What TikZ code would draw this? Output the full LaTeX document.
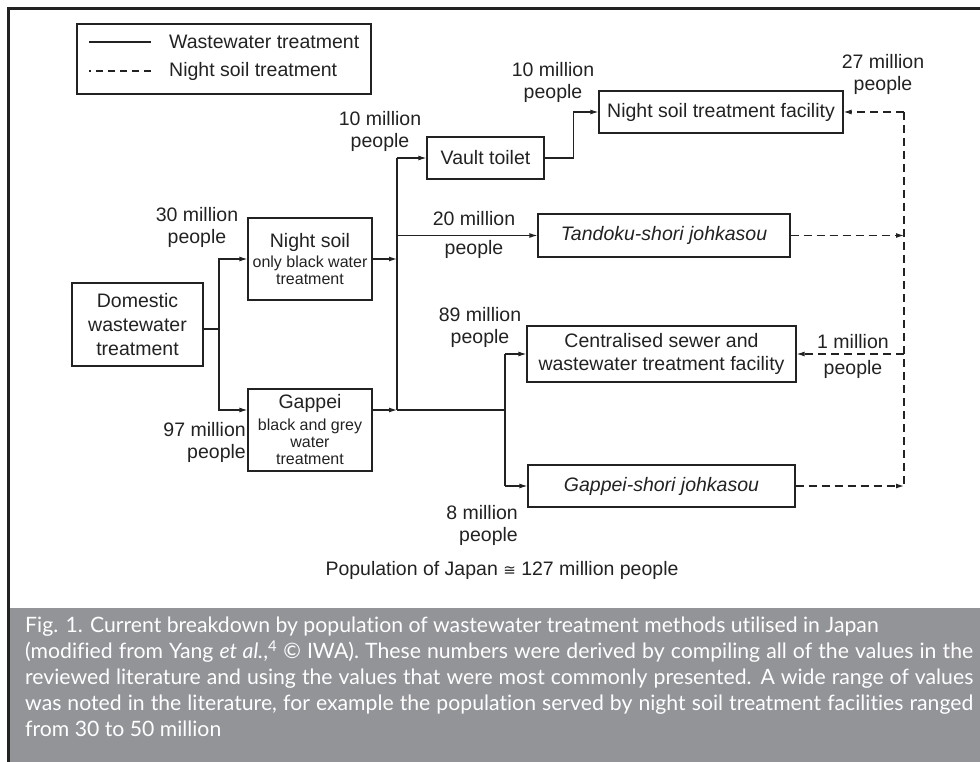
\documentclass[tikz,border=0pt]{standalone}
\usepackage{fontspec}
\setmainfont{Liberation Sans}
\newfontfamily\capfamily[Ligatures=NoCommon]{Lato}
\newfontfamily\symfamily{DejaVu Sans}
\usetikzlibrary{arrows.meta}

\definecolor{ink}{HTML}{222222}
\definecolor{capgray}{HTML}{939498}
\newcommand\bigtxt{\fontsize{19.5}{22}\selectfont}
\newcommand\smalltxt{\fontsize{16}{17}\selectfont}
\newcommand\capfont{\capfamily\fontsize{21.2}{26}\selectfont}

\tikzset{
  box/.style={draw=ink, line width=1.2pt, inner sep=0pt, align=center, font=\bigtxt, text=ink},
  lbl/.style={inner sep=0pt, align=center, font=\bigtxt, text=ink},
  wline/.style={draw=ink, line width=1.2pt},
  nline/.style={wline, dash pattern=on 8pt off 5pt},
}

\begin{document}
\begin{tikzpicture}[x=1pt, y=-1pt, >={Latex[length=8pt,width=5pt]}]
  \useasboundingbox (0,0) rectangle (980,762);
  \fill[capgray] (9.5,608) rectangle (980,762);
  \draw[ink, line width=3pt] (8.5,762) -- (8.5,9) -- (980,9);

  % legend
  \node[draw=ink, line width=1.2pt, minimum width=294pt, minimum height=70pt, inner sep=0pt] (leg) at (224,59) {};
  \node[lbl, anchor=west] (legw) at (169,42) {Wastewater treatment};
  \node[lbl, anchor=west] (legn) at (169,71) {Night soil treatment};
  \draw[wline] ([xshift=-18pt]legw.west) -- ++(-62,0);
  \draw[nline, dash pattern=on 7pt off 5pt] ([xshift=-18pt]legn.west) -- ++(-62,0);

  % boxes
  \node[box, minimum width=131pt, minimum height=83pt] (dom) at (137.5,324.5) {Domestic\\[2pt]wastewater\\[2pt]treatment};
  \node[box, minimum width=124pt, minimum height=82pt] (ns) at (310,259) {Night soil\\[-2pt]{\smalltxt only black water}\\[-5pt]{\smalltxt treatment}};
  \node[box, minimum width=124pt, minimum height=82pt] (gp) at (310,430) {Gappei\\{\smalltxt black and grey}\\[-5pt]{\smalltxt water}\\[-5pt]{\smalltxt treatment}};
  \node[box, minimum width=117pt, minimum height=42pt] (vt) at (485.5,158) {Vault toilet};
  \node[box, minimum width=244pt, minimum height=42pt] (nsf) at (721,112) {Night soil treatment facility};
  \node[box, minimum width=252pt, minimum height=43pt] (td) at (664,235.5) {\itshape Tandoku-shori johkasou};
  \node[box, minimum width=269pt, minimum height=56pt] (cs) at (661.5,354) {Centralised sewer and\\[1pt]wastewater treatment facility};
  \node[box, minimum width=267pt, minimum height=42pt] (gs) at (661.5,486) {\itshape Gappei-shori johkasou};

  % wastewater flows
  \coordinate (j1) at (219,329);
  \coordinate (s1) at (397,410);
  \coordinate (s2) at (505,410);
  \draw[wline] ([yshift=-4.5pt]dom.east) -- (j1);
  \draw[wline,->] (j1) |- (ns.west);
  \draw[wline,->] (j1) |- ([yshift=20pt]gp.west);
  \draw[wline,->] (ns.east) -- (ns.east -| s1);
  \draw[wline,->] ([yshift=20pt]gp.east) -- (s1);
  \draw[wline] (s1) -- (s1 |- vt.west);
  \draw[wline,->] (s1 |- vt.west) -- (vt.west);
  \draw[wline,->] (s1 |- td.west) -- (td.west);
  \draw[wline] (s1) -- (s2);
  \draw[wline] (s2 |- cs.west) -- (s2 |- gs.west);
  \draw[wline,->] (s2 |- cs.west) -- (cs.west);
  \draw[wline,->] (s2 |- gs.west) -- (gs.west);
  \draw[wline,->] (vt.east) -- ++(29,0) |- (nsf.west);

  % night soil flows
  \coordinate (d) at (904,0);
  \draw[nline] (d |- nsf.east) -- (d |- gs.east);
  \draw[nline,->] (d |- nsf.east) -- (nsf.east);
  \draw[nline,->] (td.east) -- (td.east -| d);
  \draw[nline,->] (d |- cs.east) -- (cs.east);
  \draw[nline,->] (gs.east) -- (gs.east -| d);

  % population labels
  \node[lbl] (p30) at (197,227.5) {30 million\\people};
  \node[lbl, align=right, anchor=east] (p97) at (246,442.5) {97 million\\people};
  \node[lbl] (p10v) at (380,131) {10 million\\people};
  \node[lbl] (p10n) at (553,82.5) {10 million\\people};
  \node[lbl] (p27) at (883,74) {27 million\\people};
  \node[lbl] (p20) at (474,234.5) {20 million\\[7pt]people};
  \node[lbl] (p89) at (480,327) {89 million\\people};
  \node[lbl] (p1) at (853,356) {1 million\\[4pt]people};
  \node[lbl, align=right, anchor=east] (p8) at (518,525) {8 million\\people};
  \node[lbl] (pop) at (502,570) {Population of Japan {\symfamily\fontsize{15}{18}\selectfont ≅} 127 million people};

  % caption
  \node[anchor=north west, inner sep=0pt, text width=948pt, align=justify, text=white, font=\capfont] (cap) at (25,617)
    {Fig. 1. Current breakdown by population of wastewater treatment methods utilised in Japan\\
     (modified from Yang \textit{et al.},\textsuperscript{4} \textcopyright{} IWA). These numbers were derived by compiling all of the values in the\linebreak
     reviewed literature and using the values that were most commonly presented. A wide range of values\linebreak
     was noted in the literature, for example the population served by night soil treatment facilities ranged\linebreak
     from 30 to 50 million};
\end{tikzpicture}
\end{document}
